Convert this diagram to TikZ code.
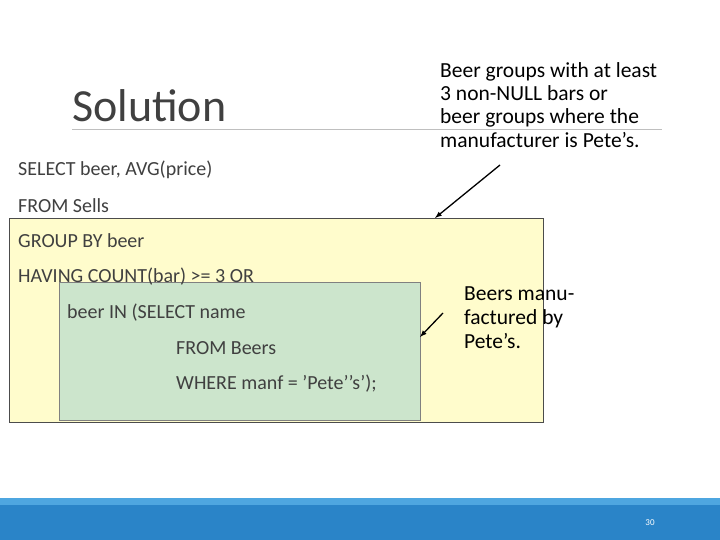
\documentclass[tikz,border=0pt]{standalone}
\usepackage{fontspec}
\setmainfont{Carlito}
\definecolor{barblue}{HTML}{2A84C8}
\definecolor{barlight}{HTML}{4EA6E0}
\begin{document}
\begin{tikzpicture}[x=1pt,y=-1pt,
  sql/.style={anchor=west,inner sep=0pt,font=\fontsize{20}{24}\selectfont,text=black!75},
  note/.style={anchor=north west,inner sep=0pt,align=left,font=\fontsize{21.5}{23.3}\selectfont,text=black},
  arr/.style={-latex,line width=1.3pt,black}]
\useasboundingbox (0,0) rectangle (720,540);
\fill[white] (0,0) rectangle (720,540);
% bottom bar
\fill[barblue] (0,498) rectangle (720,540);
\fill[barlight] (0,498) rectangle (720,505);
\node[text=white,font=\fontsize{9}{10}\selectfont] (pg) at (650,523) {30};
% title
\node[anchor=base west,inner sep=0pt,font=\fontsize{46}{50}\selectfont,text=black!75] (title) at (72,122) {Solution};
\draw[black!25,line width=1pt] (72,130) -- (662,130);
% boxes
\draw[black!70,fill=yellow!20] (9,218) rectangle (543,422);
\draw[black!50,fill=green!50!black!20!white] (59,282) rectangle (420,420);
% sql
\node[sql] (l1) at (18,170) {SELECT beer, AVG(price)};
\node[sql] (l2) at (18,206) {FROM Sells};
\node[sql] (l3) at (18,241) {GROUP BY beer};
\node[sql] (l4) at (18,277) {HAVING COUNT(bar) >= 3 OR};
\node[sql] (l5) at (67,313) {beer IN (SELECT name};
\node[sql] (l6) at (176,348) {FROM Beers};
\node[sql] (l7) at (176,384) {WHERE manf = ’Pete’’s’);};
% notes
\node[note] (n1) at (440,62) {Beer groups with at least\\3 non-NULL bars or\\beer groups where the\\manufacturer is Pete’s.};
\node[note,font=\fontsize{21.5}{24}\selectfont] (n2) at (464,287) {Beers manu-\\factured by\\Pete’s.};
\coordinate (a1s) at (500,165);
\coordinate (a1e) at (435,218);
\coordinate (a2s) at (443,313);
\coordinate (a2e) at (420,337);
\draw[arr] (a1s) -- (a1e);
\draw[arr] (a2s) -- (a2e);
\end{tikzpicture}
\end{document}
